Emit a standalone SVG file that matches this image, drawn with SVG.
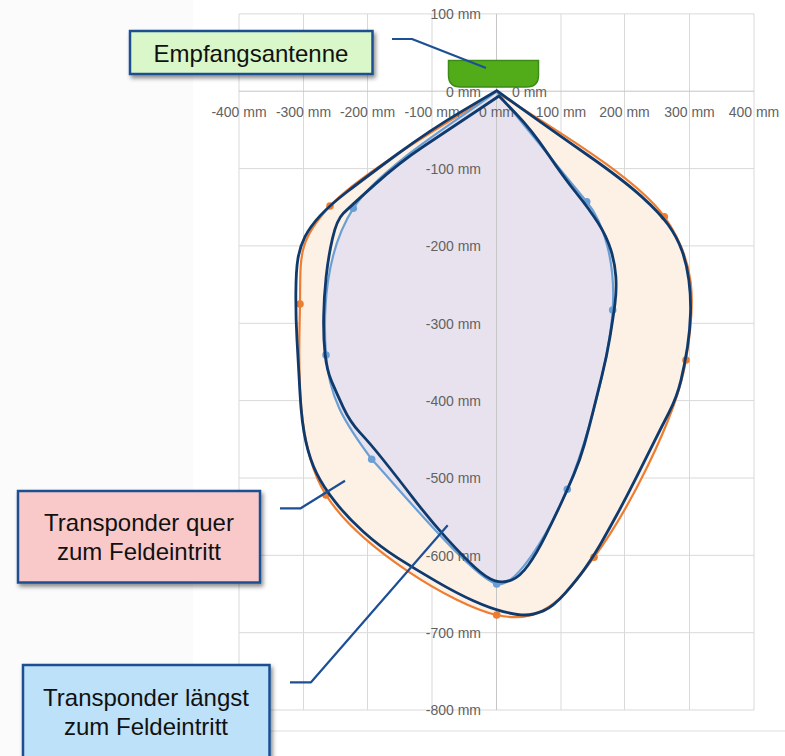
<svg xmlns="http://www.w3.org/2000/svg" width="785" height="756" viewBox="0 0 785 756">
<defs>
<style>
.grid{stroke:#d9d9d9;stroke-width:1;fill:none}
.axis{stroke:#c6c6c6;stroke-width:1;fill:none}
.tick{font-family:"Liberation Sans",Arial,sans-serif;font-size:14px;fill:#626262}
.yl{text-anchor:end}
.xl{text-anchor:middle}
.box{stroke:#1b4f92;stroke-width:2.5}
.lbl{font-family:"Liberation Sans",Arial,sans-serif;font-size:24px;fill:#111;text-anchor:middle}
.navy{fill:none;stroke:#0f3a6d;stroke-width:2.8;stroke-linejoin:round;stroke-linecap:round}
.conn{fill:none;stroke:#1d4f95;stroke-width:2.2;stroke-linejoin:round}
.om{fill:#ed7d31}
.bm{fill:#6a9fd6}
</style>
<filter id="sh" x="-10%" y="-10%" width="125%" height="140%">
<feDropShadow dx="2" dy="3" stdDeviation="2" flood-color="#000" flood-opacity="0.45"/>
</filter>
</defs>
<rect x="0" y="0" width="785" height="756" fill="#ffffff"/>
<rect x="0" y="0" width="193" height="756" fill="#fbfbfb"/>
<line x1="193" y1="731" x2="785" y2="731" stroke="#dedede" stroke-width="1"/>

<g id="grid">
<path class="grid" d="M239,13.9H754M239,168.6H754M239,245.9H754M239,323.3H754M239,400.6H754M239,478H754M239,555.3H754M239,632.7H754M239,710H754"/>
<path class="grid" d="M239,13.9V710M303.5,13.9V710M367.5,13.9V710M432,13.9V710M561,13.9V710M624.5,13.9V710M689.5,13.9V710M754,13.9V710"/>
</g>

<g id="series-quer">
<path fill="#fdf1e6" stroke="#ed7d31" stroke-width="2.2" d="M496.5,91.5 C468.75,110.58 362.75,170.58 330,206 C297.25,241.42 300.67,255.83 300,304 C299.33,352.17 293.22,443.17 326,495 C358.78,546.83 452.03,604.62 496.7,615 C541.37,625.38 562.45,599.8 594,557.3 C625.55,514.8 676,420 686,360 C696,300 695.88,261.45 664.3,216.7 C632.72,171.95 524.47,112.37 496.5,91.5 Z"/>
</g>
<g id="series-laengst">
<path fill="#e8e2ee" stroke="#6a9fd6" stroke-width="2.2" d="M496.5,91.5 C472.63,110.97 381.72,164.38 353.3,208.3 C324.88,252.22 322.93,313.17 326,355 C329.07,396.83 343.25,421.13 371.7,459.3 C400,490 472,577 496.7,584 C515,589 547.97,534.97 567.3,489.3 C586.63,443.63 609.47,357.93 612.7,310 C615.93,262.07 603.5,222 586.7,201.7 C566,176.5 511.53,109.87 496.5,91.5 Z"/>
</g>

<g id="axes">
<path class="axis" d="M239,91.2H754M496.5,13.9V710"/>
<text class="tick yl" x="481" y="19">100 mm</text>
<text class="tick yl" x="481" y="96.5">0 mm</text>
<text class="tick" x="512" y="96.5">0 mm</text>
<text class="tick yl" x="481" y="173.5">-100 mm</text>
<text class="tick yl" x="481" y="251">-200 mm</text>
<text class="tick yl" x="481" y="328.5">-300 mm</text>
<text class="tick yl" x="481" y="405.5">-400 mm</text>
<text class="tick yl" x="481" y="483">-500 mm</text>
<text class="tick yl" x="481" y="560.5">-600 mm</text>
<text class="tick yl" x="481" y="637.5">-700 mm</text>
<text class="tick yl" x="481" y="715">-800 mm</text>
<text class="tick xl" x="239" y="116.5">-400 mm</text>
<text class="tick xl" x="303.5" y="116.5">-300 mm</text>
<text class="tick xl" x="367.5" y="116.5">-200 mm</text>
<text class="tick xl" x="432" y="116.5">-100 mm</text>
<text class="tick xl" x="496.5" y="116.5">0 mm</text>
<text class="tick xl" x="561" y="116.5">100 mm</text>
<text class="tick xl" x="624.5" y="116.5">200 mm</text>
<text class="tick xl" x="689.5" y="116.5">300 mm</text>
<text class="tick xl" x="754" y="116.5">400 mm</text>
</g>

<g id="markers">
<circle class="om" cx="330" cy="206" r="3.8"/>
<circle class="om" cx="300" cy="304" r="3.8"/>
<circle class="om" cx="326" cy="495" r="3.8"/>
<circle class="om" cx="496.7" cy="615" r="3.8"/>
<circle class="om" cx="594" cy="557.3" r="3.8"/>
<circle class="om" cx="686" cy="360" r="3.8"/>
<circle class="om" cx="664.3" cy="216.7" r="3.8"/>
<circle class="bm" cx="353.3" cy="208.3" r="3.8"/>
<circle class="bm" cx="326" cy="355" r="3.8"/>
<circle class="bm" cx="371.7" cy="459.3" r="3.8"/>
<circle class="bm" cx="496.7" cy="584" r="3.8"/>
<circle class="bm" cx="567.3" cy="489.3" r="3.8"/>
<circle class="bm" cx="612.7" cy="310" r="3.8"/>
<circle class="bm" cx="586.7" cy="201.7" r="3.8"/>
</g>

<g id="outline-quer">
<path class="navy" d="M496.7,90.7 L463.35,110.35 Q430,130 397.5,154 Q365,178 347.5,191.5 Q330,205 320,215.85 Q310,226.7 305,236.7 Q300,246.7 298,258.35 Q296,270 295.85,293.35 Q295.7,316.7 297,340 Q298.3,363.3 300,393.3 Q301.7,423.3 305.85,441.65 Q310,460 316.65,473.35 Q323.3,486.7 335,501.7 Q346.7,516.7 363.35,531.7 Q380,546.7 398.35,558.35 Q416.7,570 436.7,581.65 Q456.7,593.3 473.35,600.8 Q490,608.3 503.35,611.65 Q516.7,615 525,615 Q533.3,615 543.3,610.85 Q553.3,606.7 565,593.35 Q576.7,580 585,568.35 Q593.3,556.7 600,545 Q606.7,533.3 616.7,515 Q626.7,496.7 636.7,476.7 Q646.7,456.7 653.85,442.35 Q661,428 669,412.5 Q677,397 681,380.15 Q685,363.3 687.5,346.65 Q690,330 690.5,313.35 Q691,296.7 688.85,280 Q686.7,263.3 681.7,250 Q676.7,236.7 668.35,225 Q660,213.3 641.65,196.65 Q623.3,180 587.5,155 Q551.7,130 524.2,110.35 L496.7,90.7"/>
</g>
<g id="outline-laengst">
<path class="navy" d="M499,96 L473.65,113 Q448.3,130 424.15,146 Q400,162 375,184.35 Q350,206.7 343.35,213.35 Q336.7,220 332.5,238.35 Q328.3,256.7 326.15,276.7 Q324,296.7 323.65,316.7 Q323.3,336.7 325,353.35 Q326.7,370 331.7,381.65 Q336.7,393.3 343.35,407.65 Q350,422 360,432.65 Q370,443.3 383.35,460 Q396.7,476.7 413.35,498.35 Q430,520 446.65,538.35 Q463.3,556.7 475,567.5 Q486.7,578.3 495,580.8 Q503.3,583.3 511.65,580 Q520,576.7 528.35,565 Q536.7,553.3 545,536.65 Q553.3,520 560.3,505 Q567.3,490 573.65,475 Q580,460 584.5,444 Q589,428 592.85,412.35 Q596.7,396.7 601.7,376.7 Q606.7,356.7 610,336.7 Q613.3,316.7 615,303.35 Q616.7,290 615.85,276.65 Q615,263.3 610.85,250 Q606.7,236.7 598.35,223.35 Q590,210 576.65,193.35 Q563.3,176.7 547.5,153.35 Q531.7,130 515.35,113 L499,96"/>
</g>

<g id="node-antenne-shape">
<path fill="#52ac1a" stroke="#3d8a17" stroke-width="1.5" d="M448.5,60.5 H538.5 V75 Q538.5,87 526.5,87 H460.5 Q448.5,87 448.5,75 Z"/>
</g>

<g id="connectors">
<polyline class="conn" points="392,39 412,39 486,68"/>
<polyline class="conn" points="280,508.3 300.7,508.3 345,480.7"/>
<polyline class="conn" points="290,682.3 311,682.3 447.7,525.3"/>
</g>

<g id="node-empfangsantenne">
<rect class="box" x="130" y="31" width="242.5" height="43" fill="#d9f7c8" filter="url(#sh)"/>
<text class="lbl" x="251" y="61.5">Empfangsantenne</text>
</g>
<g id="node-quer">
<rect class="box" x="18" y="491" width="242" height="91.5" fill="#f9c9c9" filter="url(#sh)"/>
<text class="lbl" x="139" y="531">Transponder quer</text>
<text class="lbl" x="139" y="559.5">zum Feldeintritt</text>
</g>
<g id="node-laengst">
<rect class="box" x="23" y="665" width="246.5" height="93" fill="#bde1f8" filter="url(#sh)"/>
<text class="lbl" x="146" y="706">Transponder längst</text>
<text class="lbl" x="146" y="734.5">zum Feldeintritt</text>
</g>
</svg>
